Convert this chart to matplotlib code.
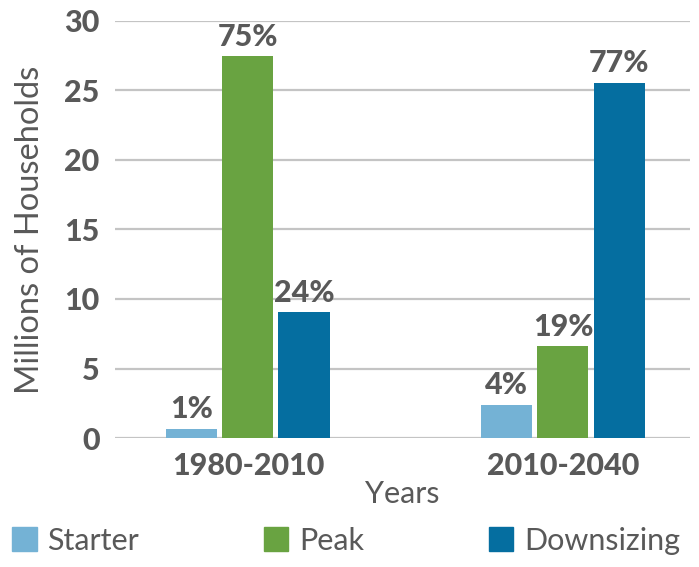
import matplotlib
matplotlib.use("Agg")
import matplotlib.pyplot as plt
from matplotlib.patches import Patch
import numpy as np

periods = ["1980-2010", "2010-2040"]
series = ["Starter", "Peak", "Downsizing"]
starter = [0.65, 2.4]
peak = [27.45, 6.6]
downsizing = [9.05, 25.55]
shares = [["1%", "4%"], ["75%", "19%"], ["24%", "77%"]]
yticks = [0, 5, 10, 15, 20, 25, 30]

colors = ["#74B2D5", "#69A341", "#056EA0"]
text_gray = "#595959"

plt.rcParams["font.family"] = ["Lato", "DejaVu Sans"]

fig = plt.figure(figsize=(6.99, 5.67), dpi=100)
ax = fig.add_axes([0.1645, 0.2275, 0.8225, 0.7355])

x = np.arange(len(periods))
width = 0.162
step = 0.178
values = [starter, peak, downsizing]
for i, (vals, col) in enumerate(zip(values, colors)):
    pos = x + (i - 1) * step
    bars = ax.bar(pos, vals, width=width, color=col, zorder=3)
    for b, lab in zip(bars, shares[i]):
        ax.annotate(lab, (b.get_x() + b.get_width() / 2, b.get_height()),
                    xytext=(0, 4), textcoords="offset points",
                    ha="center", va="bottom", fontsize=22,
                    fontweight="black", color=text_gray)

ax.set_xlim(-0.422, 1.403)
ax.set_ylim(0, 30)
ax.set_yticks(yticks)
ax.set_xticks(x)
ax.set_xticklabels(periods)
ax.tick_params(axis="both", length=0, labelsize=22, labelcolor=text_gray)
for t in ax.get_xticklabels() + ax.get_yticklabels():
    t.set_fontweight("black")
ax.tick_params(axis="y", pad=11)
ax.tick_params(axis="x", pad=10)
ax.yaxis.grid(True, color="#C4C4C4", linewidth=1.6, zorder=0)
for s in ax.spines.values():
    s.set_visible(False)

ax.set_ylabel("Millions of Households", fontsize=23.5, color=text_gray,
              labelpad=14)
ax.set_xlabel("Years", fontsize=22, color=text_gray, labelpad=0)

handles = [Patch(color=c, label=s) for c, s in zip(colors, series)]
fig.legend(handles=handles, loc="lower left", ncol=3, mode="expand",
           bbox_to_anchor=(0.0, 0.0, 0.99, 0.07), frameon=False,
           fontsize=22, handlelength=0.8, handleheight=0.8,
           handletextpad=0.35, labelcolor=text_gray, borderaxespad=0.0)

fig.savefig("out.png", dpi=100)
